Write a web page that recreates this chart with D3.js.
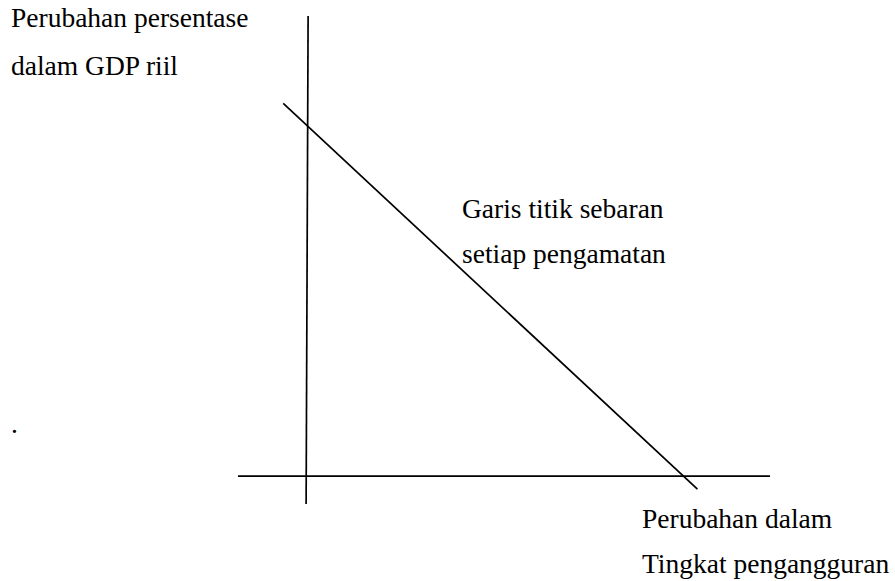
<!DOCTYPE html>
<html>
<head>
<meta charset="utf-8">
<script src="https://cdn.jsdelivr.net/npm/d3@7"></script>
<style>
    body { margin: 0; background: #ffffff; }
</style>
</head>
<body>
<script>
// axis extents in diagram units (origin = where the two axes cross)
const xAxisLine = [[-1.4, 0], [9.3, 0]];
const yAxisLine = [[0.01, 9.26], [-0.03, -0.56]];
// scatter line through the observations
const fitLine = [[-0.49, 7.5], [7.84, -0.26]];

const textLines = ["Perubahan persentase", "dalam GDP riil"];
const noteLines = ["Garis titik sebaran", "setiap pengamatan"];
const xLabelLines = ["Perubahan dalam", "Tingkat pengangguran"];

const width = 895;
const height = 581;

const helpers = {
    renderElement: (parent, elementName = "") => parent.append(elementName),
    setAttributes: (d3Element = {}, attributes = {}) => {
        Object.keys(attributes).forEach(key => {
            d3Element.attr(key.replace(/_/g, "-"), attributes[key]);
        });
    }
};

const svg = d3.select("body").append("svg")
    .attr("width", width)
    .attr("height", height);

const x = d3.scaleLinear().domain([-1.4, 9.3]).range([238, 770]);
const y = d3.scaleLinear().domain([-0.56, 9.26]).range([504, 16]);

const line = d3.line()
    .x(d => x(d[0]))
    .y(d => y(d[1]));

[xAxisLine, yAxisLine, fitLine].forEach(pts => {
    const path = helpers.renderElement(svg, "path");
    helpers.setAttributes(path, {
        d: line(pts),
        fill: "none",
        stroke: "#000000",
        stroke_width: 1.7
    });
});

const fontSize = 27.5;

// block of text lines, baseline of first line at (left, top)
const writeBlock = (lines, left, top, gap) => {
    lines.forEach((t, i) => {
        const el = helpers.renderElement(svg, "text");
        helpers.setAttributes(el, {
            x: left,
            y: top + i * gap,
            font_family: "Liberation Serif",
            font_size: fontSize,
            fill: "#000000"
        });
        el.text(t);
    });
};

writeBlock(textLines, 11, 27, 48);
writeBlock(noteLines, 462, 218, 45);
writeBlock(xLabelLines, 642, 528, 45);
writeBlock(["."], 11, 433, 0);
</script>
</body>
</html>
